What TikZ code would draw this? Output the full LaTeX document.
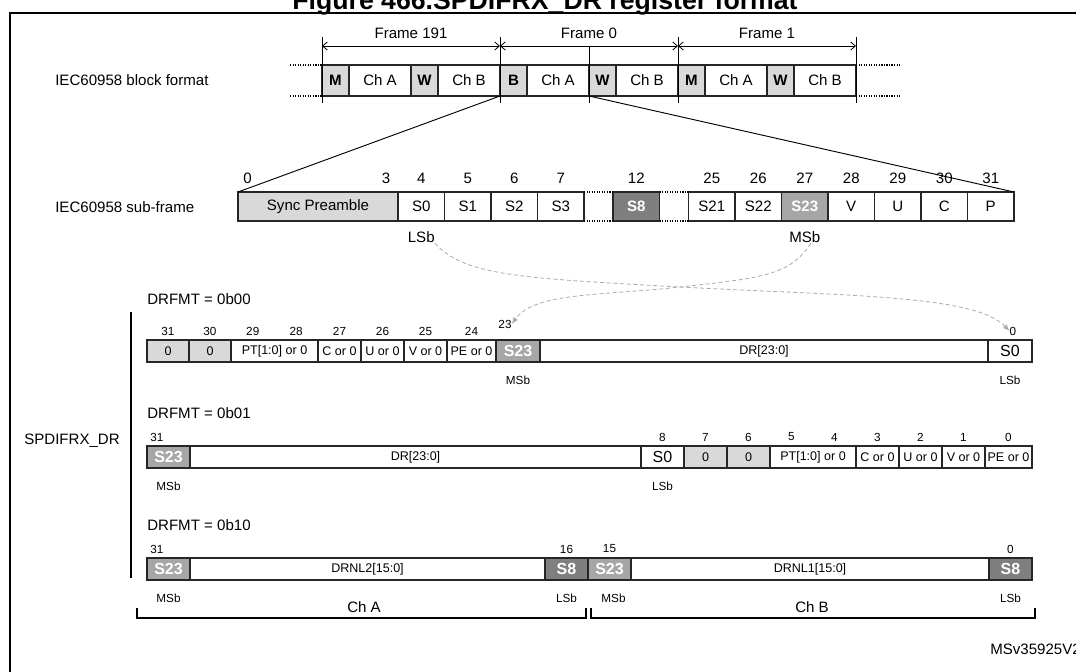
\documentclass[tikz,border=0pt]{standalone}
\usepackage{fontspec}
\setmainfont{Liberation Sans}
\usetikzlibrary{arrows.meta, positioning, calc}
\definecolor{celllite}{HTML}{D9D9D9}
\definecolor{cellmid}{HTML}{A6A6A6}
\definecolor{celldark}{HTML}{7F7F7F}
\definecolor{linkgray}{HTML}{ABABAB}
\definecolor{edgegray}{HTML}{262626}

\newcommand{\lblfont}{\fontsize{11.3}{13}\selectfont}
\newcommand{\regfont}{\fontsize{9.4}{11}\selectfont}
\newcommand{\bitfont}{\fontsize{8.8}{10}\selectfont}
\newcommand{\bigsfont}{\fontsize{12}{14}\selectfont}

\tikzset{
  bx/.style={draw=edgegray, line width=1.1pt, inner sep=0pt, outer sep=0pt},
  lite/.style={fill=celllite},
  plain/.style={fill=white},
  mid/.style={fill=cellmid, text=white},
  dark/.style={fill=celldark, text=white},
  lbl/.style={font=\lblfont, inner sep=0pt},
  bitno/.style={font=\bitfont, inner sep=0pt},
  dim/.style={line width=0.6pt, {Straight Barb[length=3.5pt,width=6pt]}-{Straight Barb[length=3.5pt,width=6pt]}},
  tick/.style={line width=0.7pt},
  dots/.style={densely dotted, line width=0.9pt},
  link/.style={draw=linkgray, line width=0.6pt, dash pattern=on 3pt off 2pt, -{Latex[length=5pt,width=4pt]}},
  heavy/.style={line width=1.5pt},
}

\begin{document}
\begin{tikzpicture}[x=0.75pt,y=-0.75pt]
  \useasboundingbox (0,0) rectangle (1076,672);
  % frame and title
  \draw[heavy] (10,674) -- (10,13) -- (1080,13);
  \node[font=\fontsize{20}{24}\selectfont\bfseries, anchor=base, inner sep=0pt] (title) at (545,9) {Figure 466.SPDIFRX\_DR register format};

  % IEC60958 block format
  \node[lbl, anchor=west] (blocklbl) at (55,80) {IEC60958 block format};
  \foreach \nm/\xa/\xb/\st/\txt in {
      m191/322/349/lite/\textbf{M}, cha191/349/411/plain/Ch A, w191/411/438/lite/\textbf{W}, chb191/438/500/plain/Ch B,
      b0/500/527/lite/\textbf{B}, cha0/527/589/plain/Ch A, w0/589/616/lite/\textbf{W}, chb0/616/678/plain/Ch B,
      m1/678/705/lite/\textbf{M}, cha1/705/767/plain/Ch A, w1/767/794/lite/\textbf{W}, chb1/794/856/plain/Ch B}
    \node[bx, \st, font=\lblfont, minimum width={(\xb-\xa)*0.75pt}, minimum height=23.25pt] (\nm) at ({(\xa+\xb)/2},80.5) {\txt};
  \draw[dots] (290,65) -- (m191.north west) (290,96) -- (m191.south west);
  \draw[dots] (chb1.north east) -- (900,65) (chb1.south east) -- (900,96);

  % frame extents
  \foreach \nm/\xx in {fa/322, fb/500, fc/678, fd/856}
    \coordinate (\nm) at (\xx,46);
  \foreach \nm in {fa,fb,fc,fd}
    \draw[tick] ($(\nm)+(0,-9)$) -- ($(\nm)+(0,57)$);
  \draw[tick] ($(w0.north west)+(0,-18)$) -- ($(w0.south west)+(0,7)$);
  \draw[dim] (fa) -- node[lbl, above=5pt] (fr191) {Frame 191} (fb);
  \draw[dim] (fb) -- node[lbl, above=5pt] (fr0) {Frame 0} (fc);
  \draw[dim] (fc) -- node[lbl, above=5pt] (fr1) {Frame 1} (fd);

  % IEC60958 sub-frame
  \node[lbl, anchor=west] (sublbl) at (55,207) {IEC60958 sub-frame};
  \foreach \nm/\xa/\xb/\st/\txt in {
      sync/238/398/lite/Sync Preamble, s0/398/444.5/plain/S0, s1/444.5/491/plain/S1, s2/491/537.5/plain/S2, s3/537.5/584/plain/S3,
      s8/613/659.5/dark/\textbf{S8}, s21/688.5/735/plain/S21, s22/735/781.5/plain/S22, s23/781.5/828/mid/\textbf{S23},
      subv/828/874.5/plain/V, subu/874.5/921/plain/U, subc/921/967.5/plain/C, subp/967.5/1014/plain/P}
    \node[bx, \st, font=\lblfont, minimum width={(\xb-\xa)*0.75pt}, minimum height=21.75pt] (\nm) at ({(\xa+\xb)/2},206.5) {\txt};
  \draw[dots] (s3.north east) -- (s8.north west) (s3.south east) -- (s8.south west)
    (s8.north east) -- (s21.north west) (s8.south east) -- (s21.south west);
  \node[lbl, anchor=west] (nsync0) at (243,178) {0};
  \node[lbl] (nsync3) at (386,178) {3};
  \foreach \nm/\bit in {s0/4, s1/5, s2/6, s3/7, s8/12, s21/25, s22/26, s23/27, subv/28, subu/29, subc/30, subp/31}
    \node[lbl] (n\nm) at (\nm |- 0,178) {\bit};
  \node[lbl, below=8pt of s0] (sublsb) {LSb};
  \node[lbl, below=8pt of s23] (submsb) {MSb};

  % zoom lines from the block to the sub-frame
  \draw[tick] (chb191.south east) -- (sync.north west);
  \draw[tick] (w0.south west) -- (subp.north east);

  % SPDIFRX_DR
  \node[lbl, anchor=east] (drlbl) at (120,441) {SPDIFRX\_DR};
  \draw[heavy] (131,312) -- (131,578);

  % DRFMT = 0b00
  \node[lbl, anchor=west] (fmta) at (147,299) {DRFMT = 0b00};
  \foreach \nm/\xa/\xb/\st/\txt in {
      ra-za/147/189/lite/0, ra-zb/189/231/lite/0, ra-pt/231/318/plain/PT[1:0] or 0, ra-c/318/361/plain/C or 0,
      ra-u/361/404/plain/U or 0, ra-v/404/447/plain/V or 0, ra-pe/447/496/plain/PE or 0,
      ra-s23/496/540/mid/{\bigsfont\bfseries S23}, ra-dr/540/988/plain/DR[23:0], ra-s0/988/1032/plain/{\bigsfont S0}}
    \node[bx, \st, font=\regfont, minimum width={(\xb-\xa)*0.75pt}, minimum height=16.5pt] (\nm) at ({(\xa+\xb)/2},351) {\txt};
  \foreach \nm/\bit in {ra-za/31, ra-zb/30, ra-c/27, ra-u/26, ra-v/25, ra-pe/24}
    \node[bitno] (b\nm) at (\nm |- 0,331) {\bit};
  \node[bitno] (bra-29) at (252.75,331) {29};
  \node[bitno] (bra-28) at (296.25,331) {28};
  \node[bitno] (bra-23) at (505,324) {23};
  \node[bitno] (bra-0) at (1013,331) {0};
  \node[bitno, below=10pt of ra-s23] (ramsb) {MSb};
  \node[bitno, below=10pt of ra-s0] (ralsb) {LSb};

  % DRFMT = 0b01
  \node[lbl, anchor=west] (fmtb) at (147,413) {DRFMT = 0b01};
  \foreach \nm/\xa/\xb/\st/\txt in {
      rb-s23/147/190/mid/{\bigsfont\bfseries S23}, rb-dr/190/641/plain/DR[23:0], rb-s0/641/684/plain/{\bigsfont S0},
      rb-za/684/727/lite/0, rb-zb/727/770/lite/0, rb-pt/770/856/plain/PT[1:0] or 0, rb-c/856/899/plain/C or 0,
      rb-u/899/942/plain/U or 0, rb-v/942/985/plain/V or 0, rb-pe/985/1032/plain/PE or 0}
    \node[bx, \st, font=\regfont, minimum width={(\xb-\xa)*0.75pt}, minimum height=16.5pt] (\nm) at ({(\xa+\xb)/2},457) {\txt};
  \node[bitno] (brb-31) at (157,437) {31};
  \foreach \nm/\bit in {rb-s0/8, rb-za/7, rb-zb/6, rb-c/3, rb-u/2, rb-v/1, rb-pe/0}
    \node[bitno] (b\nm) at (\nm |- 0,437) {\bit};
  \node[bitno] (brb-5) at (791.5,437) {5};
  \node[bitno] (brb-4) at (834.5,437) {4};
  \node[bitno, below=10pt of rb-s23] (rbmsb) {MSb};
  \node[bitno, below=10pt of rb-s0] (rblsb) {LSb};

  % DRFMT = 0b10
  \node[lbl, anchor=west] (fmtc) at (147,525) {DRFMT = 0b10};
  \foreach \nm/\xa/\xb/\st/\txt in {
      rc-s23a/147/190/mid/{\bigsfont\bfseries S23}, rc-dra/190/545/plain/DRNL2[15:0], rc-s8a/545/588/dark/{\bigsfont\bfseries S8},
      rc-s23b/588/631/mid/{\bigsfont\bfseries S23}, rc-drb/631/989/plain/DRNL1[15:0], rc-s8b/989/1032/dark/{\bigsfont\bfseries S8}}
    \node[bx, \st, font=\regfont, minimum width={(\xb-\xa)*0.75pt}, minimum height=16.5pt] (\nm) at ({(\xa+\xb)/2},569) {\txt};
  \node[bitno] (brc-31) at (157,549) {31};
  \foreach \nm/\bit in {rc-s8a/16, rc-s23b/15, rc-s8b/0}
    \node[bitno] (b\nm) at (\nm |- 0,549) {\bit};
  \node[bitno, below=10pt of rc-s23a] (rcmsba) {MSb};
  \node[bitno, below=10pt of rc-s8a] (rclsba) {LSb};
  \node[bitno, below=10pt of rc-s23b, xshift=3pt] (rcmsbb) {MSb};
  \node[bitno, below=10pt of rc-s8b] (rclsbb) {LSb};

  % channel brackets
  \node[lbl] (cha) at (364,607) {Ch A};
  \node[lbl] (chb) at (812,607) {Ch B};
  \draw[heavy] (137,608) -- (137,618) -- (586,618) -- (586,608);
  \draw[heavy] (591,608) -- (591,618) -- (1035,618) -- (1035,608);

  % bit mapping
  \draw[link] (sublsb.south east) .. controls (465,276) and (520,278) .. (680,287) .. controls (850,296) and (975,295) .. (bra-0.west);
  \draw[link] ($(submsb.south)+(6,0)$) .. controls (790,276) and (760,278) .. (680,287) .. controls (600,296) and (535,292) .. (bra-23.east);

  \node[lbl, anchor=west] (docid) at (990,649) {MSv35925V2};
\end{tikzpicture}
\end{document}
